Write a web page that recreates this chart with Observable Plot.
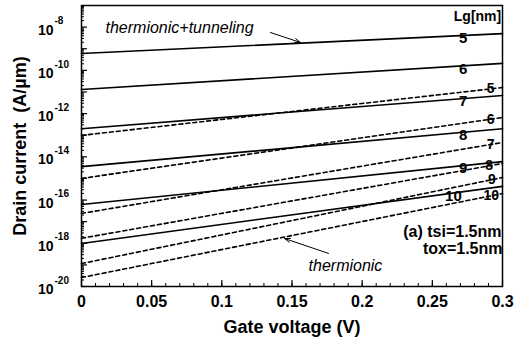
<!DOCTYPE html>
<html>
<head>
<meta charset="utf-8">
<script src="https://cdn.jsdelivr.net/npm/d3@7"></script>
<script src="https://cdn.jsdelivr.net/npm/@observablehq/plot@0.6"></script>
<style>
  html, body { margin: 0; padding: 0; background: white; }
  #chart svg { display: block; }
</style>
</head>
<body>
<div id="chart"></div>
<script>
// ---- data ----
const gateVoltage = [0, 0.3];
const lgValues = [5, 6, 7, 8, 9, 10];
// thermionic + tunneling (solid)
const tunnelAt0   = [6.0e-10, 1.3e-11, 2.0e-13, 3.5e-15, 6.2e-17, 9.8e-19];
const tunnelAt03  = [5.0e-9, 2.1e-10, 6.9e-12, 2.0e-13, 6.0e-15, 4.3e-16];
// thermionic only (dashed)
const thermAt0    = [9.8e-14, 1.0e-15, 2.4e-17, 1.7e-18, 1.15e-19, 2.6e-20];
const thermAt03   = [1.6e-11, 6.6e-13, 4.6e-14, 4.9e-15, 1.1e-15, 2.0e-16];

const xMajorTicks = [0, 0.05, 0.1, 0.15, 0.2, 0.25, 0.3];
const xMinorTicks = d3.range(0, 0.3001, 0.01);
const yLabelExponents = [-8, -10, -12, -14, -16, -18, -20];
const yMajorTicks = d3.range(-20, -7).map(e => Math.pow(10, e));
const yMinorTicks = d3.range(-20, -7).flatMap(e => d3.range(2, 10).map(m => m * Math.pow(10, e)));

// label positions (gate voltage where the Lg labels sit)
const solidLabelV = [0.272, 0.272, 0.272, 0.272, 0.272, 0.265];
const dashedLabelV = [0.2915, 0.2915, 0.2915, 0.2905, 0.2925, 0.292];

// annotations
const annotations = [
  {text: "thermionic+tunneling", v: 0.0171, i: 9.5e-9, anchor: "start", italic: true},
  {text: "thermionic", v: 0.1618, i: 9.3e-20, anchor: "start", italic: true},
  {text: "(a) tsi=1.5nm", v: 0.2993, i: 3.2e-18, anchor: "end", italic: false},
  {text: "tox=1.5nm", v: 0.3, i: 5.7e-19, anchor: "end", italic: false},
  {text: "Lg[nm]", v: 0.2822, i: 3.1e-8, anchor: "middle", italic: false, small: true}
];
const arrows = [
  {v1: 0.1347, i1: 5.6e-9, v2: 0.156, i2: 1.95e-9},
  {v1: 0.176, i1: 3.4e-19, v2: 0.1447, i2: 1.66e-18}
];

// ---- build tables ----
const toRows = (a0, a3, kind) => lgValues.flatMap((lg, k) => [
  {v: gateVoltage[0], i: a0[k], lg, kind},
  {v: gateVoltage[1], i: a3[k], lg, kind}
]);
const solidRows = toRows(tunnelAt0, tunnelAt03, "tunnel");
const dashedRows = toRows(thermAt0, thermAt03, "therm");
const interp = (i0, i3, v) => Math.pow(10, Math.log10(i0) + (Math.log10(i3) - Math.log10(i0)) * (v - gateVoltage[0]) / (gateVoltage[1] - gateVoltage[0]));
const solidLabels = lgValues.map((lg, k) => ({v: solidLabelV[k], i: interp(tunnelAt0[k], tunnelAt03[k], solidLabelV[k]), t: String(lg)}));
const dashedLabels = lgValues.map((lg, k) => ({v: dashedLabelV[k], i: interp(thermAt0[k], thermAt03[k], dashedLabelV[k]), t: String(lg)}));

const font = "'Liberation Sans', Arial, Helvetica, sans-serif";

const chart = Plot.plot({
  width: 518,
  height: 347,
  marginLeft: 81,
  marginRight: 16,
  marginTop: 5,
  marginBottom: 61,
  style: {fontFamily: font, background: "white", color: "black", overflow: "visible"},
  x: {domain: [0, 0.3]},
  y: {type: "log", domain: [1e-20, 1e-7]},
  marks: [
    // axes ticks (inward)
    Plot.axisX({ticks: xMinorTicks, tickSize: -3, tickFormat: () => "", label: null, strokeWidth: 1}),
    Plot.axisX({ticks: xMajorTicks, tickSize: -6, tickFormat: () => "", label: null, strokeWidth: 1.2}),
    Plot.axisX({ticks: xMajorTicks, tickSize: 0, tickPadding: 9, tickFormat: d => String(d), label: null, fontSize: 16, fontWeight: "bold"}),
    Plot.axisY({ticks: yMinorTicks, tickSize: -3, tickFormat: () => "", label: null, strokeWidth: 1}),
    Plot.axisY({ticks: yMajorTicks, tickSize: -6, tickFormat: () => "", label: null, strokeWidth: 1.2}),
    // y tick labels 10^n
    Plot.text(yLabelExponents, {frameAnchor: "left", y: e => Math.pow(10, e), text: () => "10", textAnchor: "end", dx: -28, dy: 3, fontSize: 14, fontWeight: "bold"}),
    Plot.text(yLabelExponents, {frameAnchor: "left", y: e => Math.pow(10, e), text: e => String(e), textAnchor: "start", dx: -27, dy: -6, fontSize: 10, fontWeight: "bold"}),
    // axis titles
    Plot.text(["Gate voltage (V)"], {frameAnchor: "bottom", textAnchor: "middle", dy: 46, fontSize: 18, fontWeight: "bold"}),
    Plot.text(["Drain current  (A/\u00b5m)"], {frameAnchor: "left", textAnchor: "middle", lineAnchor: "middle", rotate: -90, dx: -61, fontSize: 18, fontWeight: "bold", letterSpacing: "1.6px"}),
    // curves
    Plot.line(solidRows, {x: "v", y: "i", z: "lg", stroke: "black", strokeWidth: 1.6}),
    Plot.line(dashedRows, {x: "v", y: "i", z: "lg", stroke: "black", strokeWidth: 1.6, strokeDasharray: "4,3"}),
    // Lg labels
    Plot.text(solidLabels, {x: "v", y: "i", text: "t", dy: 3, fontSize: 15, fontWeight: "bold"}),
    Plot.text(dashedLabels, {x: "v", y: "i", text: "t", dy: 0, fontSize: 14, fontWeight: "bold"}),
    // annotations
    Plot.text(annotations.filter(d => d.italic), {x: "v", y: "i", text: "text", textAnchor: "start", fontSize: 16, fontStyle: "italic"}),
    Plot.text(annotations.filter(d => !d.italic && !d.small), {x: "v", y: "i", text: "text", textAnchor: "end", fontSize: 16, fontWeight: "bold"}),
    Plot.text(annotations.filter(d => d.small), {x: "v", y: "i", text: "text", textAnchor: "middle", fontSize: 14, fontWeight: "bold"}),
    Plot.arrow(arrows, {x1: "v1", y1: "i1", x2: "v2", y2: "i2", stroke: "black", strokeWidth: 1, headLength: 9, headAngle: 40}),
    Plot.frame({stroke: "black", strokeWidth: 1.5})
  ]
});
document.getElementById("chart").appendChild(chart);
</script>
</body>
</html>
